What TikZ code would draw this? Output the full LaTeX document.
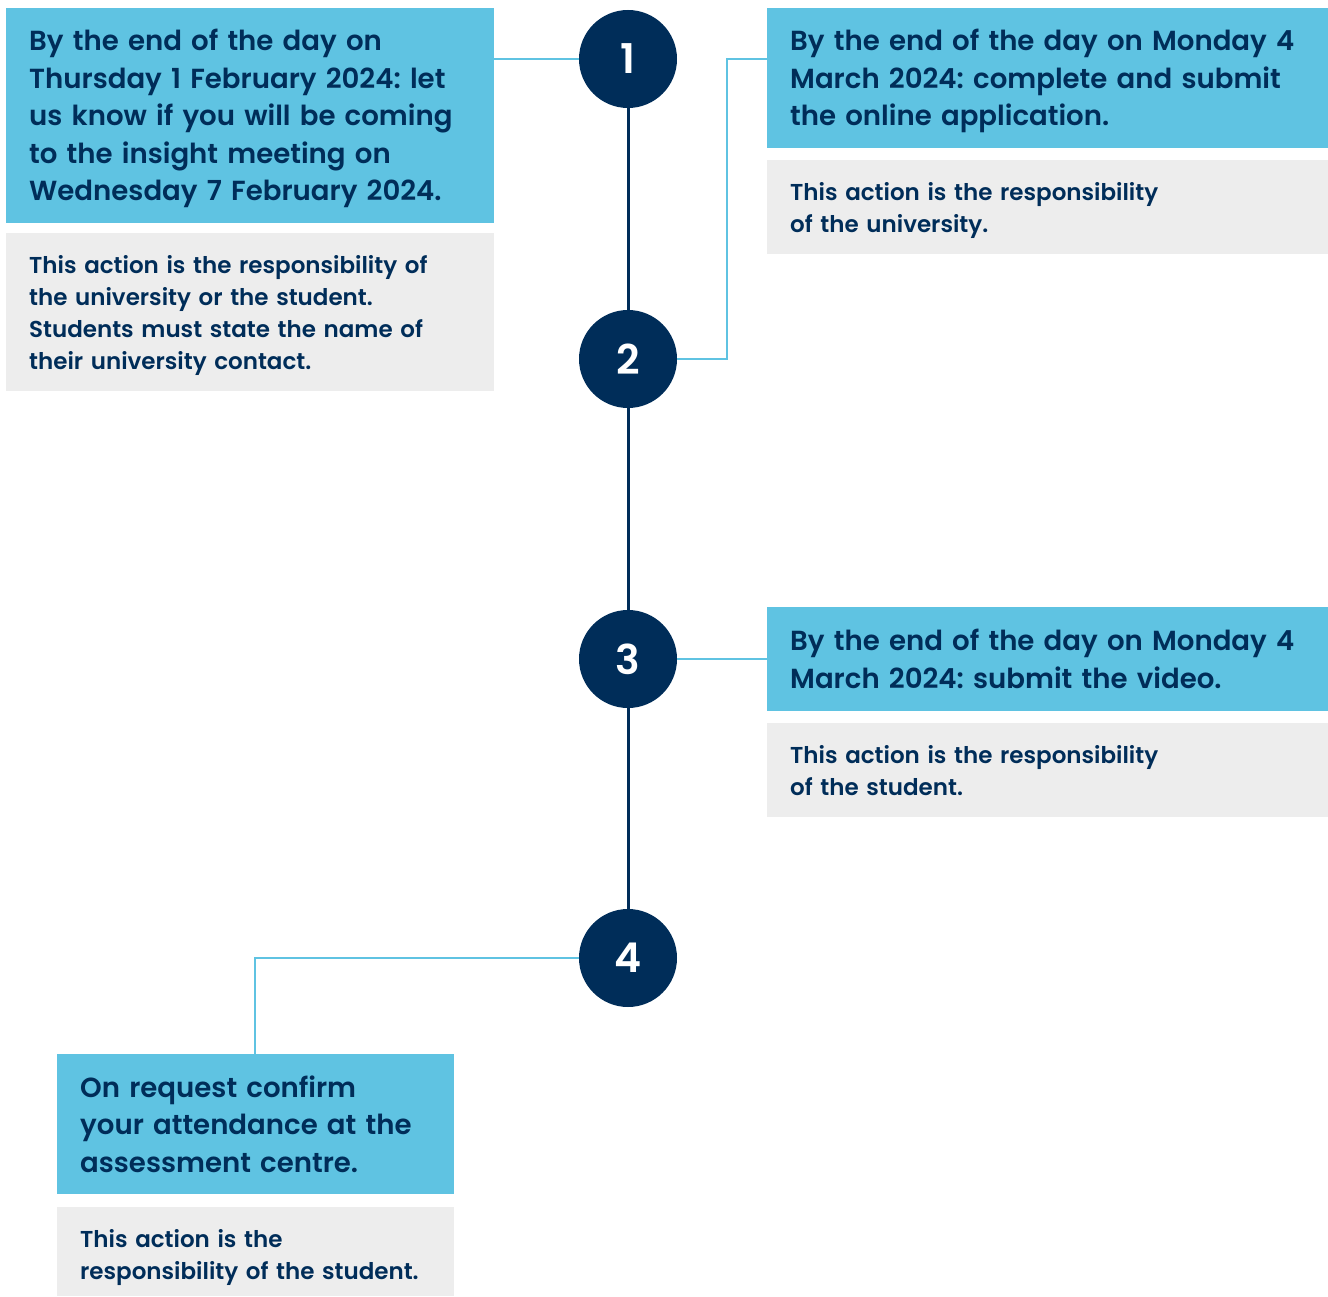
\documentclass[tikz,border=0pt]{standalone}
\usepackage{fontspec}
\setmainfont{Poppins}[BoldFont={* SemiBold}]
\frenchspacing
\definecolor{skyb}{HTML}{5FC3E2}
\definecolor{navyb}{HTML}{002D59}
\definecolor{greyb}{HTML}{EDEDED}
\begin{document}
\begin{tikzpicture}[x=1pt,y=-1pt,
  headbox/.style={fill=skyb, anchor=north west, inner sep=0pt},
  notebox/.style={fill=greyb, anchor=north west, inner sep=0pt},
  headtext/.style={inner sep=0pt, align=left, text=navyb, font=\bfseries\fontsize{27.6}{37.5}\selectfont},
  notetext/.style={inner sep=0pt, align=left, text=navyb, font=\bfseries\fontsize{23}{32}\selectfont},
  stepdot/.style={circle, fill=navyb, minimum size=98pt, inner sep=0pt, text=white, font=\bfseries\fontsize{41}{41}\selectfont},
  link/.style={draw=skyb, line width=2.5pt},
  spine/.style={draw=navyb, line width=3pt}]
\useasboundingbox (0,0) rectangle (1328,1297);
% circles
\node[stepdot] (c1) at (628,59) {1};
\node[stepdot] (c2) at (628,359) {2};
\node[stepdot] (c3) at (628,659) {3};
\node[stepdot] (c4) at (628,958) {4};
\draw[spine] (c1) -- (c2);
\draw[spine] (c2) -- (c3);
\draw[spine] (c3) -- (c4);
% boxes
\node[headbox, minimum width=488pt, minimum height=215pt] (h1) at (6,8) {};
\node[headtext, yshift=-3pt, text width=442pt] (h1t) at (h1.center)
 {By the end of the day on\\Thursday 1 February 2024: let\\us know if you will be coming\\to the insight meeting on\\Wednesday 7 February 2024.};
\node[notebox, minimum width=488pt, minimum height=158pt] (n1) at (6,233) {};
\node[notetext, yshift=-3pt, text width=442pt] (n1t) at (n1.center)
 {This action is the responsibility of\\the university or the student.\\Students must state the name of\\their university contact.};
\node[headbox, minimum width=561pt, minimum height=140pt] (h2) at (767,8) {};
\node[headtext, yshift=-3pt, text width=515pt] (h2t) at (h2.center)
 {By the end of the day on Monday 4\\March 2024: complete and submit\\the online application.};
\node[notebox, minimum width=561pt, minimum height=94pt] (n2) at (767,160) {};
\node[notetext, yshift=-3pt, text width=515pt] (n2t) at (n2.center)
 {This action is the responsibility\\of the university.};
\node[headbox, minimum width=561pt, minimum height=104pt] (h3) at (767,607) {};
\node[headtext, yshift=0.5pt, text width=515pt] (h3t) at (h3.center)
 {By the end of the day on Monday 4\\March 2024: submit the video.};
\node[notebox, minimum width=561pt, minimum height=94pt] (n3) at (767,723) {};
\node[notetext, text width=515pt] (n3t) at (n3.center)
 {This action is the responsibility\\of the student.};
\node[headbox, minimum width=397pt, minimum height=140pt] (h4) at (57,1054) {};
\node[headtext, text width=351pt] (h4t) at (h4.center)
 {On request confirm\\your attendance at the\\assessment centre.};
\node[notebox, minimum width=397pt, minimum height=89pt] (n4) at (57,1207) {};
\node[notetext, yshift=-6pt, text width=351pt] (n4t) at (n4.center)
 {This action is the\\responsibility of the student.};
% connectors
\draw[link] (h1.east |- c1) -- (c1.west);
\draw[link] (c2.east) -| (727,59) coordinate (k2) -- (k2 -| h2.west);
\draw[link] (c3.east) -- (c3 -| h3.west);
\draw[link] (c4.west) -| (h4.north -| 255,0);
\end{tikzpicture}
\end{document}
